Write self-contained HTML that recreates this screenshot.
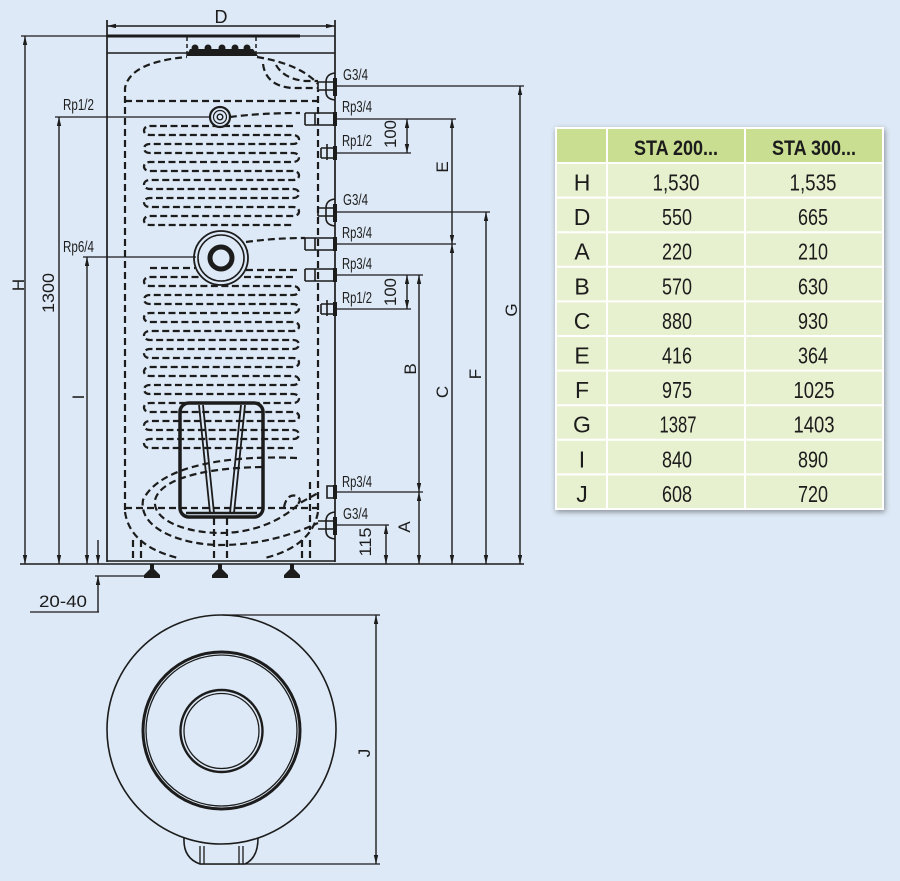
<!DOCTYPE html>
<html><head><meta charset="utf-8"><style>
html,body{margin:0;padding:0;background:#dde9f6;}
svg{display:block;}
text{font-family:"Liberation Sans Narrow","Liberation Sans",sans-serif;fill:#1c1c1c;}
</style></head><body>
<svg width="900" height="881" viewBox="0 0 900 881" xmlns="http://www.w3.org/2000/svg">
<defs>
<marker id="ar" markerUnits="userSpaceOnUse" markerWidth="10" markerHeight="6" refX="9" refY="2.2" orient="auto-start-reverse"><path d="M0,0 L9,2.2 L0,4.4 Z" fill="#1c1c1c"/></marker>
<filter id="sh" x="-10%" y="-10%" width="120%" height="120%"><feGaussianBlur in="SourceAlpha" stdDeviation="3"/><feOffset dx="1" dy="2"/><feComponentTransfer><feFuncA type="linear" slope="0.4"/></feComponentTransfer><feMerge><feMergeNode/><feMergeNode in="SourceGraphic"/></feMerge></filter>
</defs>
<rect width="900" height="881" fill="#dde9f6"/>

<!-- ===== tank outline ===== -->
<g stroke="#1c1c1c" fill="none">
<path d="M107,20 V562 M335,20 V562" stroke-width="1.7"/>
<path d="M107,36 H300" stroke-width="3"/>
<path d="M21,36 H107 M300,36 H335" stroke-width="1.3"/>
<path d="M107,53 H335" stroke-width="1.6"/>
<path d="M107,561 H335" stroke-width="1.4"/>
<path d="M20,564 H524" stroke-width="1.6"/>
</g>
<!-- top teeth -->
<g fill="#1c1c1c">
<path d="M186,56 L190,49 H253 L258,56 Z"/>
<circle cx="195" cy="48" r="3.5"/><circle cx="208" cy="48" r="3.5"/><circle cx="222" cy="48" r="3.5"/><circle cx="235" cy="48" r="3.5"/><circle cx="247" cy="48" r="3.5"/>
</g>
<path d="M187,37 V56 M256,37 V56" stroke="#1c1c1c" stroke-width="1.5" stroke-dasharray="4,3" fill="none"/>

<!-- feet -->
<g fill="#1c1c1c">
<path d="M150,564 H154 V569 L160,575 V578 H144 V575 L150,569 Z"/>
<path d="M218,564 H222 V569 L228,575 V578 H212 V575 L218,569 Z"/>
<path d="M290,564 H294 V569 L300,575 V578 H284 V575 L290,569 Z"/>
</g>

<!-- ===== dashed internals ===== -->
<g stroke="#1c1c1c" fill="none" stroke-width="2.2" stroke-dasharray="7,4">
<path d="M125,510 V88 Q130,62 187,57"/>
<path d="M318,510 V90"/>
<path d="M257,57 Q300,64 318,84"/>
<path d="M125,101 H318"/>
<path d="M263,64 Q266,86 292,88 H318"/>
<path d="M276,65 Q284,79 305,81 H318"/>
<path d="M230,117 Q260,113 300,113"/>
<path d="M125,508 H318"/>
<path d="M125,512 Q130,546 178,558"/>
<path d="M318,512 Q312,546 265,558"/>
<path d="M214,518 V562 M227,518 V562"/>
<path d="M133,540 V562 M141,540 V562 M302,540 V562 M310,540 V562"/>
<path d="M297,458 C230,455 160,465 143,500 C138,530 185,545 220,545 C260,545 292,535 318,523"/>
<path d="M262,467 C200,468 160,480 155,500 C152,522 190,533 220,533 C255,533 282,520 300,503 L318,493"/>
<path d="M284,507 Q287,493 297,496 Q303,500 296,506"/>
<path d="M310,482 V530"/>
<path d="M246,242 Q275,238 305,238 M246,270 H300 M150,268 H195"/>
</g>
<!-- upper coil -->
<path stroke="#1c1c1c" fill="none" stroke-width="2.3" stroke-dasharray="7,3.5" d="M293,126 H150 C142,126 142,135 150,135 H293 C301,135 301,144 293,144 H150 C142,144 142,153 150,153 H293 C301,153 301,162 293,162 H150 C142,162 142,171 150,171 H293 C301,171 301,180 293,180 H150 C142,180 142,189 150,189 H293 C301,189 301,198 293,198 H150 C142,198 142,207 150,207 H293 C301,207 301,216 293,216 H150 C142,216 142,225 150,225 H293"/>
<!-- lower coil -->
<path stroke="#1c1c1c" fill="none" stroke-width="2.3" stroke-dasharray="7,3.5" d="M293,277 H150 C142,277 142,286 150,286 H293 C301,286 301,295 293,295 H150 C142,295 142,304 150,304 H293 C301,304 301,313 293,313 H150 C142,313 142,322 150,322 H293 C301,322 301,331 293,331 H150 C142,331 142,340 150,340 H293 C301,340 301,349 293,349 H150 C142,349 142,358 150,358 H293 C301,358 301,367 293,367 H150 C142,367 142,376 150,376 H293 C301,376 301,385 293,385 H150 C142,385 142,394 150,394 H293 C301,394 301,403 293,403 H150 C142,403 142,412 150,412 H293 C301,412 301,421 293,421 H150 C142,421 142,430 150,430 H293 C301,430 301,439 293,439 H150 C142,439 142,448 150,448 H293"/>

<!-- heater element -->
<g stroke="#1c1c1c" fill="none">
<rect x="180" y="403" width="83" height="114" rx="9" stroke-width="3.5"/>
<path d="M199,405 L210,513 M203,405 L214,513 M245,405 L234,513 M241,405 L230,513" stroke-width="1.8"/>
<path d="M186,513 H257" stroke-width="2.5"/>
</g>

<!-- small fitting circle Rp1/2 -->
<g stroke="#1c1c1c">
<circle cx="220" cy="117" r="10" fill="#dde9f6" stroke-width="2.2"/>
<circle cx="220" cy="117" r="6.5" fill="none" stroke-width="1.2"/>
<circle cx="220" cy="117" r="2.8" fill="none" stroke-width="1.4"/>
</g>
<!-- big fitting circle Rp6/4 -->
<g stroke="#1c1c1c">
<circle cx="221" cy="258" r="27" fill="#dde9f6" stroke-width="1.8"/>
<circle cx="221" cy="258" r="23" fill="none" stroke-width="1.6"/>
<circle cx="221" cy="258" r="11" fill="none" stroke-width="5"/>
</g>

<!-- right side fittings -->
<g stroke="#1c1c1c" fill="none" stroke-width="1.6">
<path d="M335,73 Q326,74 326,82 V92 Q326,99 335,100 M318,82 H335 M318,90 H335 M318,82 V90"/>
<path d="M305,113 H335 M305,125 H335 M305,113 V125 M315,113 V125"/>
<path d="M321,148 H335 M321,158 H335 M321,148 V158 M327,144 V160"/>
<path d="M335,199 Q326,200 326,208 V218 Q326,225 335,226 M318,208 H335 M318,216 H335 M318,208 V216"/>
<path d="M305,238 H335 M305,250 H335 M305,238 V250 M315,238 V250"/>
<path d="M305,269 H335 M305,281 H335 M305,269 V281 M315,269 V281"/>
<path d="M321,304 H335 M321,314 H335 M321,304 V314 M327,300 V316"/>
<path d="M327,486 H335 V498 H327 Z"/>
<path d="M335,512 Q326,513 326,521 V531 Q326,538 335,539 M318,521 H335 M318,529 H335"/>
</g>
<g stroke="#1c1c1c" stroke-width="4">
<path d="M335,78 V96 M335,112 V126 M335,146 V160 M335,204 V222 M335,237 V251 M335,268 V282 M335,302 V316 M335,485 V499 M335,517 V535"/>
</g>

<!-- ===== dimension lines ===== -->
<g stroke="#1c1c1c" stroke-width="1.3" fill="none">
<path d="M86,117 H210 M55,117 H86"/>
<path d="M83,257 H196"/>
<path d="M335,86 H524 M335,119 H456 M335,153 H411 M335,212 H490 M335,244 H456 M335,275 H423 M335,309 H411 M335,492 H423 M335,525 H389"/>
<path d="M95,576 H146 M30,612 H99"/>
<path d="M222,615 H380 M200,864 H380"/>
</g>
<g stroke="#1c1c1c" stroke-width="1.4" fill="none" marker-start="url(#ar)" marker-end="url(#ar)">
<path d="M107,26 H335"/>
<path d="M25,36 V564"/>
<path d="M59,117 V564"/>
<path d="M87,257 V564"/>
<path d="M520,86 V564"/>
<path d="M486,212 V564"/>
<path d="M452,119 V244"/>
<path d="M452,244 V564"/>
<path d="M419,275 V492"/>
<path d="M419,492 V564"/>
<path d="M407,119 V153"/>
<path d="M407,275 V309"/>
<path d="M386,525 V564"/>
<path d="M376,615 V864"/>
</g>
<g stroke="#1c1c1c" stroke-width="1.4" fill="none" marker-end="url(#ar)">
<path d="M98,540 V564"/>
<path d="M98,612 V576"/>
</g>

<!-- labels -->
<g font-size="16">
<text x="63" y="110" textLength="31" lengthAdjust="spacingAndGlyphs">Rp1/2</text>
<text x="63" y="252" textLength="31" lengthAdjust="spacingAndGlyphs">Rp6/4</text>
<text x="343" y="80" textLength="25" lengthAdjust="spacingAndGlyphs">G3/4</text>
<text x="342" y="112" textLength="30" lengthAdjust="spacingAndGlyphs">Rp3/4</text>
<text x="342" y="146" textLength="30" lengthAdjust="spacingAndGlyphs">Rp1/2</text>
<text x="343" y="205" textLength="25" lengthAdjust="spacingAndGlyphs">G3/4</text>
<text x="342" y="238" textLength="30" lengthAdjust="spacingAndGlyphs">Rp3/4</text>
<text x="342" y="269" textLength="30" lengthAdjust="spacingAndGlyphs">Rp3/4</text>
<text x="342" y="303" textLength="30" lengthAdjust="spacingAndGlyphs">Rp1/2</text>
<text x="342" y="487" textLength="30" lengthAdjust="spacingAndGlyphs">Rp3/4</text>
<text x="343" y="519" textLength="25" lengthAdjust="spacingAndGlyphs">G3/4</text>
</g>
<text x="221" y="23" font-size="18" text-anchor="middle" style="font-family:'Liberation Sans',sans-serif">D</text>
<text x="39" y="607" font-size="17" textLength="48" lengthAdjust="spacingAndGlyphs" style="font-family:'Liberation Sans',sans-serif">20-40</text>
<g font-size="17" text-anchor="middle" style="font-family:'Liberation Sans',sans-serif">
<text transform="translate(18,285) rotate(-90)" dy="0.36em">H</text>
<text transform="translate(48,293) rotate(-90)" dy="0.36em" textLength="40" lengthAdjust="spacingAndGlyphs">1300</text>
<text transform="translate(78,397) rotate(-90)" dy="0.36em">I</text>
<text transform="translate(390,134) rotate(-90)" dy="0.36em" textLength="28" lengthAdjust="spacingAndGlyphs">100</text>
<text transform="translate(390,292) rotate(-90)" dy="0.36em" textLength="28" lengthAdjust="spacingAndGlyphs">100</text>
<text transform="translate(365,542) rotate(-90)" dy="0.36em" textLength="29" lengthAdjust="spacingAndGlyphs">115</text>
<text transform="translate(404,527) rotate(-90)" dy="0.36em">A</text>
<text transform="translate(410,369) rotate(-90)" dy="0.36em">B</text>
<text transform="translate(442,392) rotate(-90)" dy="0.36em">C</text>
<text transform="translate(475,374) rotate(-90)" dy="0.36em">F</text>
<text transform="translate(511,310) rotate(-90)" dy="0.36em">G</text>
<text transform="translate(442,167) rotate(-90)" dy="0.36em">E</text>
<text transform="translate(364,753) rotate(-90)" dy="0.36em">J</text>
</g>

<!-- ===== bottom view ===== -->
<g stroke="#1c1c1c" fill="none">
<path d="M184,838 Q183,858 200,864 H245 Q258,858 258,838" fill="#dde9f6" stroke-width="1.6"/>
<path d="M200,846 V864 M204,846 V864 M239,846 V864 M243,846 V864" stroke-width="1.3"/>
<circle cx="221.5" cy="729.5" r="114.5" stroke-width="1.6" fill="#dde9f6"/>
<circle cx="221.5" cy="730.5" r="78.5" stroke-width="3"/>
<circle cx="221.5" cy="730.5" r="75.5" stroke-width="1.3"/>
<circle cx="221.5" cy="731" r="41" stroke-width="2.4"/>
<circle cx="221.5" cy="731" r="37.5" stroke-width="1.3"/>
</g>

<!-- ===== table ===== -->
<rect x="555" y="127" width="329" height="383" fill="#ffffff" filter="url(#sh)"/>
<g fill="#c9de90">
<rect x="557" y="129" width="49" height="33"/>
<rect x="608" y="129" width="136" height="33"/>
<rect x="746" y="129" width="136" height="33"/>
</g>
<g fill="#e7f0cf">
<rect x="557" y="164" width="49" height="344"/>
<rect x="608" y="164" width="136" height="344"/>
<rect x="746" y="164" width="136" height="344"/>
</g>
<g stroke="#ffffff" stroke-width="2">
<path d="M557,197.6 H882 M557,232.2 H882 M557,266.8 H882 M557,301.4 H882 M557,336 H882 M557,370.6 H882 M557,405.2 H882 M557,439.8 H882 M557,474.4 H882"/>
</g>
<g font-size="21" font-weight="bold" text-anchor="middle">
<text x="676" y="155" textLength="84" lengthAdjust="spacingAndGlyphs">STA 200...</text>
<text x="814" y="155" textLength="84" lengthAdjust="spacingAndGlyphs">STA 300...</text>
</g>
<g font-size="23" text-anchor="middle">
<text x="582" y="190.5">H</text><text x="676" y="190.5" textLength="47" lengthAdjust="spacingAndGlyphs">1,530</text><text x="813" y="190.5" textLength="47" lengthAdjust="spacingAndGlyphs">1,535</text>
<text x="582" y="225.1">D</text><text x="677" y="225.1" textLength="30" lengthAdjust="spacingAndGlyphs">550</text><text x="813" y="225.1" textLength="30" lengthAdjust="spacingAndGlyphs">665</text>
<text x="582" y="259.7">A</text><text x="677" y="259.7" textLength="30" lengthAdjust="spacingAndGlyphs">220</text><text x="813" y="259.7" textLength="30" lengthAdjust="spacingAndGlyphs">210</text>
<text x="582" y="294.3">B</text><text x="677" y="294.3" textLength="30" lengthAdjust="spacingAndGlyphs">570</text><text x="813" y="294.3" textLength="30" lengthAdjust="spacingAndGlyphs">630</text>
<text x="582" y="328.9">C</text><text x="677" y="328.9" textLength="30" lengthAdjust="spacingAndGlyphs">880</text><text x="813" y="328.9" textLength="30" lengthAdjust="spacingAndGlyphs">930</text>
<text x="582" y="363.5">E</text><text x="677" y="363.5" textLength="30" lengthAdjust="spacingAndGlyphs">416</text><text x="813" y="363.5" textLength="30" lengthAdjust="spacingAndGlyphs">364</text>
<text x="582" y="398.1">F</text><text x="677" y="398.1" textLength="30" lengthAdjust="spacingAndGlyphs">975</text><text x="814" y="398.1" textLength="41" lengthAdjust="spacingAndGlyphs">1025</text>
<text x="582" y="432.7">G</text><text x="678" y="432.7" textLength="37" lengthAdjust="spacingAndGlyphs">1387</text><text x="814" y="432.7" textLength="41" lengthAdjust="spacingAndGlyphs">1403</text>
<text x="582" y="467.3">I</text><text x="677" y="467.3" textLength="30" lengthAdjust="spacingAndGlyphs">840</text><text x="813" y="467.3" textLength="30" lengthAdjust="spacingAndGlyphs">890</text>
<text x="582" y="501.9">J</text><text x="677" y="501.9" textLength="30" lengthAdjust="spacingAndGlyphs">608</text><text x="813" y="501.9" textLength="30" lengthAdjust="spacingAndGlyphs">720</text>
</g>
</svg>
</body></html>
